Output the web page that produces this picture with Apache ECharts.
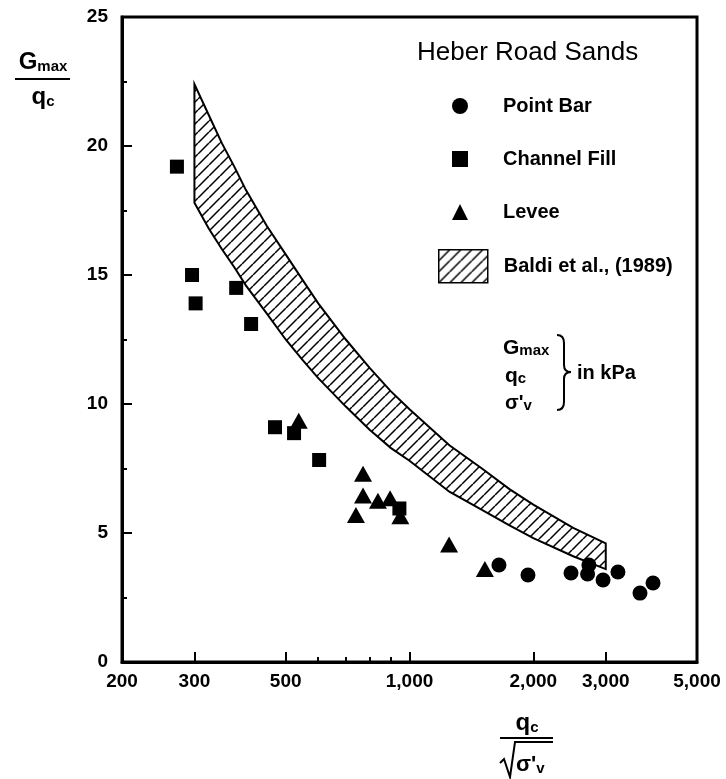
<!DOCTYPE html>
<html>
<head>
<meta charset="utf-8">
<script src="https://cdn.jsdelivr.net/npm/echarts@6/dist/echarts.min.js"></script>
<style>html,body{margin:0;padding:0;background:#fff}#c{width:726px;height:779px}</style>
</head>
<body>
<div id="c"></div>
<script>
// ---- data ----
const xTickValues = [200, 300, 500, 1000, 2000, 3000, 5000];
const xMajorTicks = [300, 500, 1000, 2000, 3000];
const xMinorTicks = [600, 700, 800, 900];

const pointBarX = [1650, 1941, 2470, 2730, 2710, 2955, 3212, 3634, 3909];
const pointBarY = [3.76, 3.37, 3.45, 3.76, 3.41, 3.18, 3.49, 2.67, 3.06];

const channelFillX = [272, 296, 302, 379, 412, 471, 524, 603, 945];
const channelFillY = [19.2, 15.0, 13.9, 14.5, 13.1, 9.1, 8.87, 7.83, 5.95];

const leveeX = [538, 771, 771, 838, 897, 741, 950, 1248, 1525];
const leveeY = [9.35, 7.3, 6.45, 6.25, 6.35, 5.7, 5.65, 4.55, 3.6];

const baldiX     = [300, 325, 350, 375, 400, 450, 500, 550, 600, 700, 800, 900, 1000, 1250, 1500, 1750, 2000, 2500, 3000];
const baldiUpper = [22.4, 21.2, 20.1, 19.2, 18.3, 16.9, 15.8, 14.8, 13.9, 12.5, 11.4, 10.5, 9.8, 8.4, 7.5, 6.7, 6.1, 5.2, 4.6];
const baldiLower = [17.8, 16.8, 16.0, 15.3, 14.6, 13.5, 12.5, 11.7, 11.0, 9.9, 9.0, 8.3, 7.8, 6.6, 5.9, 5.3, 4.8, 4.1, 3.6];

// ---- helpers ----
const FONT = '"Liberation Sans", Arial, Helvetica, sans-serif';
function zip(a, b) { return a.map((v, i) => [v, b[i]]); }
function makeHatch() {
  const s = 11;
  const c = document.createElement('canvas');
  c.width = s; c.height = s;
  const g = c.getContext('2d');
  g.fillStyle = '#fff'; g.fillRect(0, 0, s, s);
  g.strokeStyle = '#000'; g.lineWidth = 1.5;
  g.beginPath();
  [-s, 0, s].forEach(dx => { g.moveTo(dx, s); g.lineTo(dx + s, 0); });
  g.stroke();
  return { image: c, repeat: 'repeat' };
}
const hatch = makeHatch();

const chart = echarts.init(document.getElementById('c'), null, { renderer: 'canvas' });

const axisLbl = { color: '#000', fontSize: 19, fontWeight: 'bold', fontFamily: FONT };
const big = (fs) => ({ fontSize: fs, fontWeight: 'bold', fontFamily: FONT, fill: '#000' });
const sub = { fontSize: 15, fontWeight: 'bold', fontFamily: FONT, fill: '#000', verticalAlign: 'bottom' };
const blk = { stroke: '#000', lineWidth: 2, fill: null };
const solid = { color: '#000', opacity: 1 };

const option = {
  backgroundColor: '#fff',
  animation: false,
  textStyle: { fontFamily: FONT, color: '#000' },
  title: {
    text: 'Heber Road Sands',
    left: 417, top: 40, padding: 0,
    textStyle: { fontSize: 26, fontWeight: 'normal', color: '#000', fontFamily: FONT }
  },
  legend: [
    {
      data: [
        { name: 'Point Bar', icon: 'circle' },
        { name: 'Channel Fill', icon: 'rect' },
        { name: 'Levee', icon: 'triangle' }
      ],
      orient: 'vertical', left: 447, top: 91,
      itemWidth: 16, itemHeight: 16, itemGap: 33,
      selectedMode: false,
      itemStyle: { color: '#000', opacity: 1 },
      textStyle: { fontSize: 20, fontWeight: 'bold', color: '#000', fontFamily: FONT, padding: [0, 0, 0, 30] }
    },
    {
      data: [{ name: 'Baldi et al., (1989)', icon: 'rect',
               itemStyle: { color: hatch, borderColor: '#000', borderWidth: 1.5 } }],
      left: 433, top: 244,
      itemWidth: 49, itemHeight: 33,
      selectedMode: false,
      textStyle: { fontSize: 20, fontWeight: 'bold', color: '#000', fontFamily: FONT, padding: [0, 0, 0, 11] }
    }
  ],
  grid: {
    left: 122, right: 29, top: 17, bottom: 117,
    show: true, borderColor: '#000', borderWidth: 3, backgroundColor: 'transparent'
  },
  xAxis: [
    {
      type: 'log', logBase: 10, min: 200, max: 5000, position: 'bottom',
      axisLine: { lineStyle: { color: '#000', width: 3 } },
      axisTick: { inside: true, length: 10, lineStyle: { color: '#000', width: 2 }, customValues: xMajorTicks },
      axisLabel: Object.assign({ margin: 10, customValues: xTickValues,
        formatter: v => Number(v).toLocaleString('en-US') }, axisLbl),
      splitLine: { show: false }, minorTick: { show: false }
    },
    {
      type: 'log', logBase: 10, min: 200, max: 5000, position: 'bottom', gridIndex: 0,
      axisLine: { show: false },
      axisTick: { inside: true, length: 5, lineStyle: { color: '#000', width: 2 }, customValues: xMinorTicks },
      axisLabel: { show: false },
      splitLine: { show: false }
    }
  ],
  yAxis: {
    type: 'value', min: 0, max: 25, interval: 5,
    axisLine: { show: true, lineStyle: { color: '#000', width: 3 } },
    axisTick: { show: true, inside: true, length: 10, lineStyle: { color: '#000', width: 2 } },
    minorTick: { show: true, splitNumber: 2, length: 5, lineStyle: { color: '#000', width: 2 } },
    axisLabel: Object.assign({ margin: 14 }, axisLbl),
    splitLine: { show: false }, minorSplitLine: { show: false }
  },
  graphic: [
    // y-axis title  Gmax / qc
    { type: 'text', style: { x: 43, y: 62, textAlign: 'center', textVerticalAlign: 'middle',
        text: '{a|G}{b|max}', rich: { a: big(24), b: sub } } },
    { type: 'line', shape: { x1: 15, y1: 79, x2: 70, y2: 79 }, style: blk },
    { type: 'text', style: { x: 43, y: 97, textAlign: 'center', textVerticalAlign: 'middle',
        text: '{a|q}{b|c}', rich: { a: big(24), b: sub } } },
    // x-axis title  qc / sqrt(sigma'v)
    { type: 'text', style: { x: 527, y: 723, textAlign: 'center', textVerticalAlign: 'middle',
        text: '{a|q}{b|c}', rich: { a: big(24), b: sub } } },
    { type: 'line', shape: { x1: 500, y1: 738, x2: 553, y2: 738 }, style: blk },
    { type: 'polyline', shape: { points: [[500, 763], [504, 759], [510, 777], [515, 742], [553, 742]] }, style: blk },
    { type: 'text', style: { x: 516, y: 765, textAlign: 'left', textVerticalAlign: 'middle',
        text: "{a|σ'}{b|v}", rich: { a: big(22), b: sub } } },
    // units annotation
    { type: 'text', style: { x: 503, y: 348, textAlign: 'left', textVerticalAlign: 'middle',
        text: '{a|G}{b|max}', rich: { a: big(21), b: sub } } },
    { type: 'text', style: { x: 505, y: 376, textAlign: 'left', textVerticalAlign: 'middle',
        text: '{a|q}{b|c}', rich: { a: big(21), b: sub } } },
    { type: 'text', style: { x: 505, y: 403, textAlign: 'left', textVerticalAlign: 'middle',
        text: "{a|σ'}{b|v}", rich: { a: big(20), b: sub } } },
    // brace
    { type: 'bezierCurve', shape: { x1: 557, y1: 335, cpx1: 564, cpy1: 335, x2: 564, y2: 343 }, style: blk },
    { type: 'line', shape: { x1: 564, y1: 343, x2: 564, y2: 365 }, style: blk },
    { type: 'bezierCurve', shape: { x1: 564, y1: 365, cpx1: 564, cpy1: 372, x2: 571, y2: 372 }, style: blk },
    { type: 'bezierCurve', shape: { x1: 571, y1: 372, cpx1: 564, cpy1: 372, x2: 564, y2: 379 }, style: blk },
    { type: 'line', shape: { x1: 564, y1: 379, x2: 564, y2: 402 }, style: blk },
    { type: 'bezierCurve', shape: { x1: 564, y1: 402, cpx1: 564, cpy1: 410, x2: 557, y2: 410 }, style: blk },
    { type: 'text', style: { x: 577, y: 373, textAlign: 'left', textVerticalAlign: 'middle',
        text: 'in kPa', fontSize: 20, fontWeight: 'bold', fontFamily: FONT, fill: '#000' } }
  ],
  series: [
    {
      name: 'Baldi et al., (1989)',
      type: 'custom',
      coordinateSystem: 'cartesian2d',
      xAxisIndex: 0,
      itemStyle: { color: hatch, borderColor: '#000', borderWidth: 2 },
      data: [[baldiX[0], baldiUpper[0]]],
      z: 1,
      renderItem: function (params, api) {
        const pts = [];
        for (let i = 0; i < baldiX.length; i++) pts.push(api.coord([baldiX[i], baldiUpper[i]]));
        for (let i = baldiX.length - 1; i >= 0; i--) pts.push(api.coord([baldiX[i], baldiLower[i]]));
        return { type: 'polygon', shape: { points: pts },
                 style: { fill: hatch, stroke: '#000', lineWidth: 2 } };
      }
    },
    {
      name: 'Point Bar', type: 'scatter', xAxisIndex: 0, symbol: 'circle', symbolSize: 15,
      itemStyle: solid, data: zip(pointBarX, pointBarY), z: 3
    },
    {
      name: 'Channel Fill', type: 'scatter', xAxisIndex: 0, symbol: 'rect', symbolSize: 14,
      itemStyle: solid, data: zip(channelFillX, channelFillY), z: 3
    },
    {
      name: 'Levee', type: 'scatter', xAxisIndex: 0, symbol: 'triangle', symbolSize: [18, 16],
      itemStyle: solid, data: zip(leveeX, leveeY), z: 3
    }
  ]
};
chart.setOption(option);
</script>
</body>
</html>
